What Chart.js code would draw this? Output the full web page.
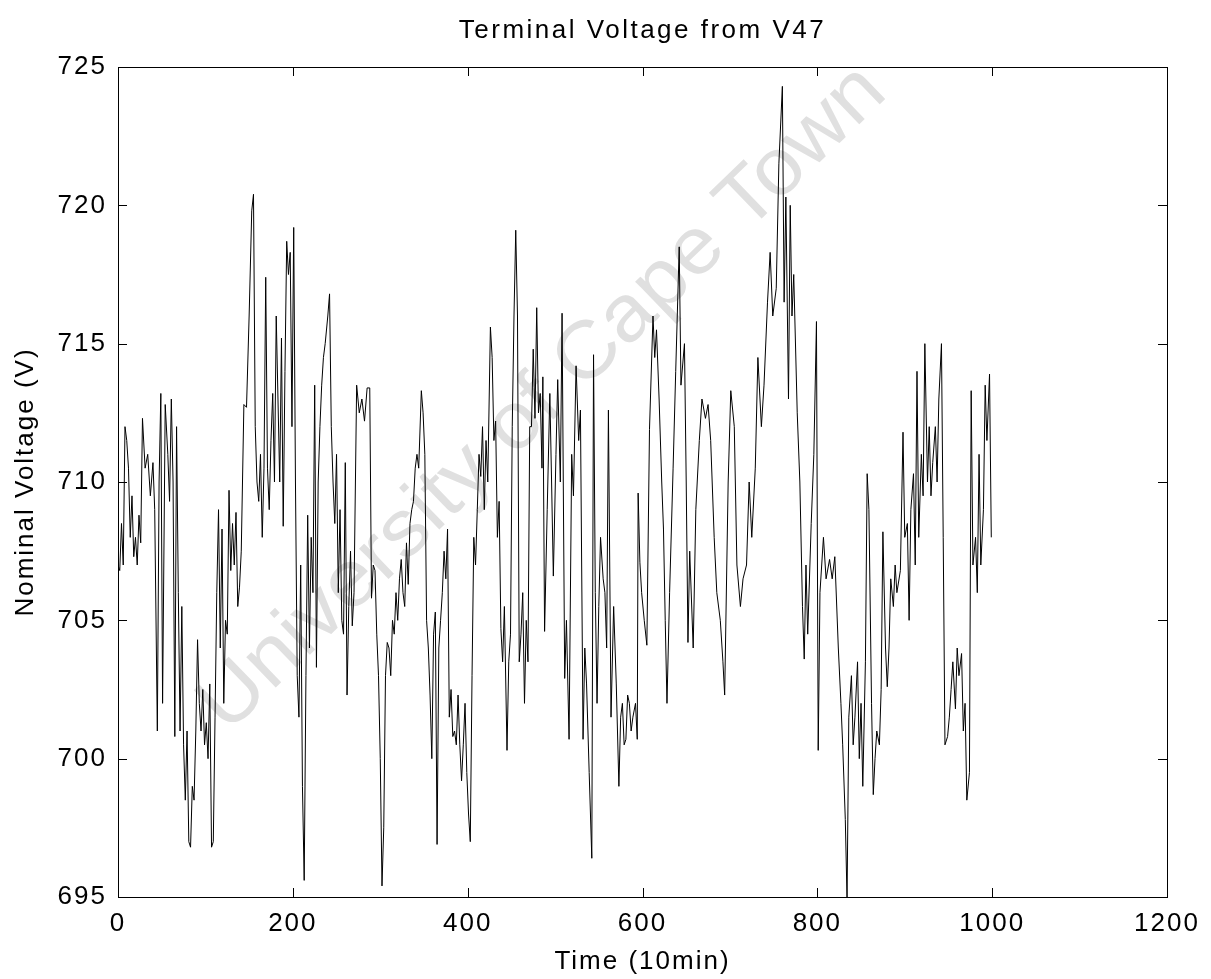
<!DOCTYPE html>
<html>
<head>
<meta charset="utf-8">
<title>Terminal Voltage from V47</title>
<script src="https://cdn.jsdelivr.net/npm/chart.js@4.4.1/dist/chart.umd.min.js"></script>
<style>
  html, body { margin: 0; padding: 0; background: #fff; }
  #wrap { width: 1211px; height: 979px; }
</style>
</head>
<body>
<div id="wrap"><canvas id="chart" width="1211" height="979"></canvas></div>
<script>
// texts
const chartTitle = 'Terminal Voltage from V47';
const xTitle = 'Time (10min)';
const yTitle = 'Nominal Voltage (V)';
const watermark = 'University of Cape Town';

// axes
const xTicks = [0, 200, 400, 600, 800, 1000, 1200];
const yTicks = [695, 700, 705, 710, 715, 720, 725];

// samples (time in 10 min steps, volts)
const time = [
  0, 2, 4, 6, 8, 10, 12, 14, 16, 18, 20, 22, 24, 26, 28, 31, 34, 37, 40, 42,
  45, 47, 49, 51, 54, 57, 59, 61, 63, 65, 67, 69, 71, 73, 75, 77, 79, 81, 83, 85,
  87, 89, 91, 93, 95, 97, 99, 101, 103, 105, 107, 109, 111, 113, 115, 117, 119, 121, 123, 125,
  127, 129, 131, 133, 135, 137, 139, 141,
  144, 147, 150, 153, 155, 157, 159, 161, 163, 165, 167, 169, 171, 173, 175, 177, 179, 181, 183, 185,
  187, 189, 191, 193, 195, 197, 199, 201, 203, 205, 207, 209, 211, 213, 215, 217, 219, 221, 223, 225,
  227, 229, 231, 233, 235, 237, 240, 242, 244, 246, 248, 250, 252, 254, 256, 258, 260, 262, 264, 266,
  268, 270, 273, 276, 279, 282, 285, 288, 290, 292, 294, 296, 298, 300,
  302, 304, 306, 308, 310, 312, 314, 316, 318, 320, 322, 324, 326, 328, 330, 332, 334, 336, 338, 340,
  342, 344, 347, 349, 351, 353, 355, 357, 359, 361, 363, 365, 367, 369, 371, 373, 375, 377, 379, 381,
  383, 385, 387, 389, 391, 393, 395, 397, 399, 401, 403, 405, 407, 409, 411, 413, 415, 417, 419, 421,
  423, 426, 428, 430, 432, 434, 436, 438, 440, 442,
  445, 447, 449, 451, 453, 455, 457, 459, 461, 463, 465, 467, 469, 471, 473, 475, 477, 479, 481, 483,
  485, 486, 488, 491, 494, 496, 498, 501, 503, 506, 508, 511, 513, 516, 519, 521, 524, 527, 529, 532,
  534, 536, 539, 542, 544, 546, 548, 550, 552, 555, 557, 559, 561, 564, 567, 570, 573, 575, 577, 579,
  581, 583, 585, 587, 589, 592, 594, 595, 597, 599, 602, 605, 608, 612, 614, 616, 619, 622, 624, 626,
  628, 631, 635, 638,
  642, 644, 648, 650, 652, 654, 658, 661,
  665, 668, 672, 675, 678, 682, 685, 689, 692, 694, 698, 701, 705, 708, 712, 715, 719, 722, 725, 729,
  732, 736, 739, 743, 746, 749, 753, 756, 760, 762, 764, 767, 769, 771, 773, 777, 780, 783, 785, 787,
  789, 793, 796, 799, 801, 803, 807, 810, 814, 817, 820, 824, 827, 829, 832, 834, 836, 839, 841, 843,
  846, 848, 850, 852, 855, 857, 859, 862, 864, 866, 868, 871, 873, 875, 878, 880, 882, 884, 887, 889,
  891, 895, 898, 900, 903, 905, 907, 910, 912, 914, 916, 919, 921, 923, 926, 928, 930, 932, 935, 937,
  939, 942, 944, 946, 949, 951, 953, 955, 958, 960, 962, 965, 967, 969, 971, 974, 976, 978, 981, 983,
  985, 987, 990, 992, 994, 997, 999
];
const voltage = [
  707, 706.8, 708.5, 707, 712, 711.5, 710.5, 708, 709.5, 707.3, 708, 707, 708.8, 707.8, 712.3, 710.5, 711, 709.5, 710.7, 709,
  701, 710, 713.2, 702, 712.8, 711, 709.3, 713, 710, 700.8, 712, 706, 701, 705.5, 700.5, 698.5, 701, 697, 696.8, 699,
  698.5, 701, 704.3, 702, 701, 702.5, 700.5, 701.3, 700, 702.7, 696.8, 697, 701.5, 706, 709, 704, 708.3, 702, 705, 704.5,
  709.7, 706.8, 708.5, 707, 708.9, 705.5, 706.2, 707.5,
  712.8, 712.7, 716, 719.8, 720.4, 712, 710, 709.3, 711, 708, 710.5, 717.4, 710.5, 709, 711.5, 713.2, 710, 716, 713, 710,
  715.2, 708.4, 714, 718.7, 717.5, 718.3, 712, 719.2, 710, 703, 701.5, 707, 699, 695.6, 703, 708.8, 704, 708, 706, 713.5,
  703.3, 710, 712, 713.5, 714.5, 715, 716, 716.8, 712, 710, 708.5, 711, 706, 709, 705, 704.5, 710.7, 702.3, 705.5, 707.5,
  704.8, 706, 713.5, 712.5, 713, 712.2, 713.4, 713.4, 705.8, 707, 706.8, 704.5, 703, 700,
  695.4, 697.5, 703, 704.2, 704, 703, 705, 704.5, 706, 705, 706.5, 707.2, 706, 705.5, 707.8, 706.3, 708.5, 709, 709.3, 710.5,
  711, 710.5, 713.3, 712.5, 711, 705, 704, 702.3, 700, 704.5, 705.3, 696.9, 704, 705, 706, 707.5, 706.5, 708.3, 701.5, 702.5,
  700.8, 701, 700.5, 702.3, 700.5, 699.2, 700.5, 702, 699.5, 698, 697, 703, 708, 707, 709, 711, 710.2, 712, 709, 711.5,
  710, 715.6, 714.5, 711.5, 712.2, 708, 709.3, 704.7, 703.5, 705.5,
  700.3, 703.5, 704.5, 712, 716, 719.1, 716, 703.5, 704.5, 706, 702, 705, 703.5, 712, 712, 714.8, 712.3, 716.3, 712.5, 713.2,
  710.5, 713.8, 704.6, 709, 713.2, 710, 706.6, 711, 713.7, 710, 716.1, 702.9, 705, 700.7, 711, 709.5, 714.2, 711.5, 712.6, 700.7,
  704, 702.7, 699.5, 696.4, 714.6, 706, 702, 705.5, 708, 706.5, 706, 704, 712.6, 701.5, 705.5, 702.7, 699, 701.5, 702, 700.5,
  700.7, 702.3, 702, 701, 701.5, 702, 700.7, 709.6, 707.1, 706, 705, 704.1, 711.9, 716, 714.5, 715.5, 713, 710, 708.3, 705,
  702, 706, 710.5, 714,
  718.5, 713.5, 715, 710, 704.2, 707.5, 704, 709,
  711.5, 713, 712.3, 712.8, 711.5, 708, 706, 705, 703.5, 702.3, 710, 713.3, 712, 707, 705.5, 706.5, 707, 710, 708, 710.5,
  714.5, 712, 713.5, 716.5, 718.3, 716, 717, 721.5, 724.3, 716.5, 720.3, 713, 720, 716, 717.5, 712.5, 710, 705.5, 703.6, 707,
  704.5, 708.5, 711, 715.8, 700.3, 706, 708, 706.5, 707.2, 706.5, 707.3, 704, 702, 700.5, 697.8, 694.9, 701.5, 703, 700.5, 701.5,
  703.5, 700, 702, 699, 703.5, 710.3, 709, 702, 698.7, 700, 701, 700.5, 702.5, 708.2, 704, 702.6, 704, 706.5, 705.5, 707,
  706, 706.8, 711.8, 708, 708.5, 705, 709, 710.3, 707, 714, 708, 711, 709.5, 715, 710, 712, 709.5, 710.7, 712, 710,
  713, 715, 708, 700.5, 700.8, 701.5, 702.5, 703.5, 701.8, 704, 703, 703.8, 701, 702, 698.5, 699.5, 713.3, 707, 708, 706,
  711, 707, 709, 713.5, 711.5, 713.9, 708
];

const fontFamily = "'Liberation Sans', Arial, sans-serif";

const points = time.map((t, i) => ({ x: t, y: voltage[i] }));

// letter spacing like the scanned original (canvas resets it on resize)
const spacing = {
  id: 'spacing',
  beforeLayout(chart) { chart.ctx.letterSpacing = '2px'; },
  beforeDraw(chart) { chart.ctx.letterSpacing = '2px'; }
};

const paper = {
  id: 'paper',
  beforeDraw(chart) {
    const ctx = chart.ctx;
    ctx.save();
    ctx.fillStyle = '#fff';
    ctx.fillRect(0, 0, chart.width, chart.height);
    ctx.restore();
  }
};

const stamp = {
  id: 'stamp',
  beforeDatasetsDraw(chart) {
    const ctx = chart.ctx;
    const a = chart.chartArea;
    ctx.save();
    ctx.translate(a.left + (a.right - a.left) * 0.405, a.top + (a.bottom - a.top) * 0.40);
    ctx.rotate(-44 * Math.PI / 180);
    ctx.font = "80px 'Liberation Sans', Arial, sans-serif";
    ctx.letterSpacing = '0px';
    const w = ctx.measureText(watermark).width;
    ctx.scale(920 / w, 1);
    ctx.fillStyle = '#e0e0e0';
    ctx.textAlign = 'center';
    ctx.textBaseline = 'middle';
    ctx.fillText(watermark, 0, 0);
    ctx.restore();
  }
};

const frame = {
  id: 'frame',
  afterDatasetsDraw(chart) {
    const ctx = chart.ctx;
    const a = chart.chartArea;
    const xs = chart.scales.x, ys = chart.scales.y;
    const len = 9;
    ctx.save();
    ctx.strokeStyle = '#000';
    ctx.lineWidth = 1;
    ctx.strokeRect(a.left + 0.5, a.top + 0.5, a.right - a.left, a.bottom - a.top);
    ctx.beginPath();
    xTicks.forEach(v => {
      const px = Math.round(xs.getPixelForValue(v)) + 0.5;
      ctx.moveTo(px, a.bottom); ctx.lineTo(px, a.bottom - len);
      ctx.moveTo(px, a.top); ctx.lineTo(px, a.top + len);
    });
    yTicks.forEach(v => {
      const py = Math.round(ys.getPixelForValue(v)) + 0.5;
      ctx.moveTo(a.left, py); ctx.lineTo(a.left + len, py);
      ctx.moveTo(a.right, py); ctx.lineTo(a.right - len, py);
    });
    ctx.stroke();
    ctx.restore();
  }
};

const heading = {
  id: 'heading',
  afterDraw(chart) {
    const ctx = chart.ctx;
    const a = chart.chartArea;
    ctx.save();
    ctx.letterSpacing = '2.5px';
    ctx.font = '26px ' + fontFamily;
    ctx.fillStyle = '#000';
    ctx.textAlign = 'center';
    ctx.textBaseline = 'middle';
    ctx.fillText(chartTitle, (a.left + a.right) / 2, 31);
    ctx.restore();
  }
};

new Chart(document.getElementById('chart'), {
  type: 'line',
  data: {
    datasets: [{
      data: points,
      borderColor: '#000',
      borderWidth: 1,
      pointRadius: 0,
      tension: 0,
      fill: false
    }]
  },
  options: {
    responsive: false,
    animation: false,
    events: [],
    layout: { padding: { top: 67, right: 44, left: 0, bottom: 0 } },
    plugins: {
      legend: { display: false },
      tooltip: { enabled: false },
      title: { display: false }
    },
    scales: {
      x: {
        type: 'linear',
        min: 0,
        max: 1200,
        afterBuildTicks(scale) { scale.ticks = xTicks.map(v => ({ value: v })); },
        afterFit(scale) { scale.height = 82; },
        grid: { display: false, drawTicks: false },
        border: { display: false },
        ticks: {
          color: '#000',
          padding: 11,
          maxRotation: 0,
          callback: v => String(v),
          font: { family: fontFamily, size: 26 }
        },
        title: {
          display: true,
          text: xTitle,
          color: '#000',
          padding: { top: 0, bottom: 2 },
          font: { family: fontFamily, size: 26 }
        }
      },
      y: {
        min: 695,
        max: 725,
        afterBuildTicks(scale) { scale.ticks = yTicks.map(v => ({ value: v })); },
        afterFit(scale) { scale.width = 118; },
        grid: { display: false, drawTicks: false },
        border: { display: false },
        ticks: {
          color: '#000',
          padding: 11,
          callback: v => String(v),
          font: { family: fontFamily, size: 26 }
        },
        title: {
          display: true,
          text: yTitle,
          color: '#000',
          padding: { top: 10, bottom: 0 },
          font: { family: fontFamily, size: 26 }
        }
      }
    }
  },
  plugins: [spacing, paper, stamp, frame, heading]
});
</script>
</body>
</html>
